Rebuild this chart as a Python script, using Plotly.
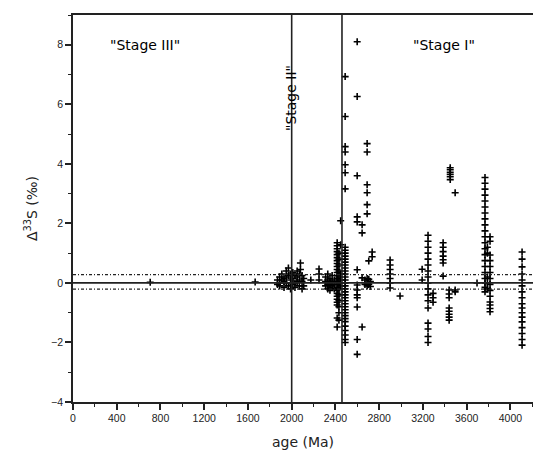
import plotly.graph_objects as go

# ---- data (age in Ma, Δ33S in ‰) ----
groups = {
    706: [0.02],
    1666: [0.03],
    1870: [0.1, -0.05],
    1890: [0.2, 0.0, -0.1],
    1910: [0.3, 0.1],
    1930: [0.15, -0.15, 0.05],
    1950: [0.4, 0.2, 0.0],
    1970: [0.5, 0.25, -0.1],
    1990: [0.3, 0.1, -0.2],
    2010: [0.35, 0.15, -0.05],
    2030: [0.25, 0.0, -0.15],
    2050: [0.4, 0.2, 0.05],
    2070: [0.3, 0.1, -0.1],
    2080: [0.67, 0.45],
    2095: [0.25, 0.05, -0.2],
    2110: [0.15, -0.1],
    2175: [0.1],
    2250: [0.47, 0.3, 0.1],
    2310: [0.2, 0.05, -0.1],
    2330: [0.3, 0.1, -0.05, -0.2],
    2350: [0.15, 0.0, -0.15, -0.25],
    2370: [0.25, 0.05, -0.1],
    2390: [0.1, -0.05, -0.2],
    2416: [1.35, 1.25, 1.15, 1.05, 0.95, 0.85, 0.75, 0.65, 0.55, 0.45, 0.35, 0.25,
           0.15, 0.05, -0.05, -0.15, -0.25, -0.35, -0.45, -0.55, -0.65, -0.74, -1.18, -1.48],
    2432: [1.0, 0.8, 0.6, 0.4, 0.2, 0.0, -0.2, -0.4, -0.6, -0.8, -1.0, -1.25],
    2448: [2.09, 1.28, 0.3, 0.1, -0.1],
    2489: [6.93, 5.59, 4.58, 4.4, 3.97, 3.7, 3.16, 1.2, 1.1, 1.0, 0.9, 0.8, 0.7, 0.6,
           0.5, 0.4, 0.3, 0.2, 0.1, 0.0, -0.1, -0.2, -0.3, -0.4, -0.5, -0.6, -0.7,
           -0.8, -0.9, -1.0, -1.1, -1.2, -1.3, -1.45, -1.6, -1.75, -1.9, -2.0],
    2599: [8.1, 6.26, 3.6, 2.22, 2.05, 0.44, -0.07, -0.24, -0.4, -0.5, -0.81, -1.9, -2.4],
    2644: [1.95, 1.68, 0.17, -1.48],
    2670: [0.1, -0.05],
    2690: [4.68, 4.4, 3.3, 3.03, 2.63, 2.32, 0.15, 0.0, -0.1],
    2705: [0.74, 0.12, -0.05],
    2720: [0.05, -0.12],
    2736: [1.04, 0.88],
    2900: [0.77, 0.6, 0.45, 0.3, 0.15, 0.0, -0.17],
    2991: [-0.44],
    3193: [0.46, 0.1],
    3247: [1.6, 1.4, 1.2, 1.0, 0.8, 0.6, 0.4, 0.2, 0.0, -0.2, -0.4, -0.6, -0.84,
           -1.35, -1.55, -1.8, -2.0],
    3293: [-0.35, -0.5, -0.65],
    3385: [1.35, 1.2, 1.05, 0.9, 0.78, 0.67, 0.23],
    3440: [-0.24, -0.37, -0.5, -0.84, -0.95, -1.05, -1.15, -1.25],
    3450: [3.87, 3.8, 3.72, 3.65, 3.57, 3.47],
    3495: [3.03, -0.24, -0.3],
    3695: [0.0],
    3768: [3.54, 3.35, 3.15, 2.95, 2.75, 2.55, 2.35, 2.15, 1.95, 1.75, 1.55, 1.35,
           1.15, 0.95, 0.75, 0.55, 0.35, 0.15, 0.0, -0.15, -0.3],
    3790: [1.2, 1.0, 0.2, 0.0, -0.2],
    3814: [1.55, 1.4, 0.94, 0.75, 0.55, 0.35, 0.15, -0.05, -0.25, -0.45, -0.64,
           -0.74, -0.86, -0.97],
    4107: [1.04, 0.8, 0.54, 0.3, 0.1, -0.1, -0.3, -0.5, -0.7, -0.84, -1.0, -1.15,
           -1.31, -1.5, -1.7, -1.9, -2.09],
}

stage_boundaries = [2000, 2460]      # Ma
band_limits = [0.28, -0.21]          # ‰
stage_labels = ['"Stage III"', '"Stage II"', '"Stage I"']
x_ticks = [0, 400, 800, 1200, 1600, 2000, 2400, 2800, 3200, 3600, 4000]
y_ticks = [-4, -2, 0, 2, 4, 6, 8]

ages, d33s = [], []
for a, vals in groups.items():
    for v in vals:
        ages.append(a)
        d33s.append(v)

FONT = "DejaVu Sans, Liberation Sans, sans-serif"
TICKFONT = "Liberation Sans, Arial, sans-serif"
INK = "#222222"

fig = go.Figure()
fig.add_trace(go.Scatter(
    x=ages, y=d33s, mode="markers",
    marker=dict(symbol="cross-thin", size=5, line=dict(width=1.6, color="black"), color="black"),
    showlegend=False, hoverinfo="x+y"))

# reference lines
fig.add_hline(y=0, line=dict(color=INK, width=1.6))
for b in band_limits:
    fig.add_hline(y=b, line=dict(color=INK, width=1.2, dash="3px,2px,1px,2px"))
for s in stage_boundaries:
    fig.add_vline(x=s, line=dict(color=INK, width=1.6))

# stage labels
fig.add_annotation(x=660, y=8.0, text=stage_labels[0], showarrow=False,
                   font=dict(family=FONT, size=14, color="black"))
fig.add_annotation(x=stage_boundaries[0], y=6.2, text=stage_labels[1], showarrow=False,
                   textangle=-90, font=dict(family=FONT, size=14, color="black"))
fig.add_annotation(x=3390, y=8.0, text=stage_labels[2], showarrow=False,
                   font=dict(family=FONT, size=14, color="black"))

fig.update_layout(
    width=533, height=458,
    margin=dict(l=73, r=0, t=15, b=56, autoexpand=False),
    plot_bgcolor="white", paper_bgcolor="white",
    font=dict(family=FONT, color=INK),
    xaxis=dict(range=[0, 4207], tickvals=x_ticks, ticks="outside", ticklen=6,
               tickwidth=1.5, tickcolor=INK, showline=True, linecolor=INK,
               linewidth=1.6, mirror=True, showgrid=False, zeroline=False,
               automargin=False,
               tickfont=dict(size=10.5, family=TICKFONT, color=INK),
               minor=dict(dtick=200, tick0=0, ticks="outside", ticklen=3,
                          tickwidth=1.2, tickcolor=INK, showgrid=False),
               title=dict(text="age (Ma)", font=dict(size=14, family=FONT, color=INK),
                          standoff=14)),
    yaxis=dict(range=[-4, 9.0], tickvals=y_ticks, ticks="outside", ticklen=6,
               tickwidth=1.5, tickcolor=INK, showline=True, linecolor=INK,
               linewidth=1.6, mirror=False, showgrid=False, zeroline=False,
               automargin=False,
               tickfont=dict(size=10.5, family=TICKFONT, color=INK),
               minor=dict(dtick=1, tick0=0, ticks="outside", ticklen=3,
                          tickwidth=1.2, tickcolor=INK, showgrid=False),
               title=dict(text="Δ<sup>33</sup>S (‰)", font=dict(size=14, family=FONT, color=INK),
                          standoff=10)),
)

fig.write_html("out.html", config={"displayModeBar": False},
               post_script="document.body.style.margin='0';document.body.style.overflow='hidden';")
